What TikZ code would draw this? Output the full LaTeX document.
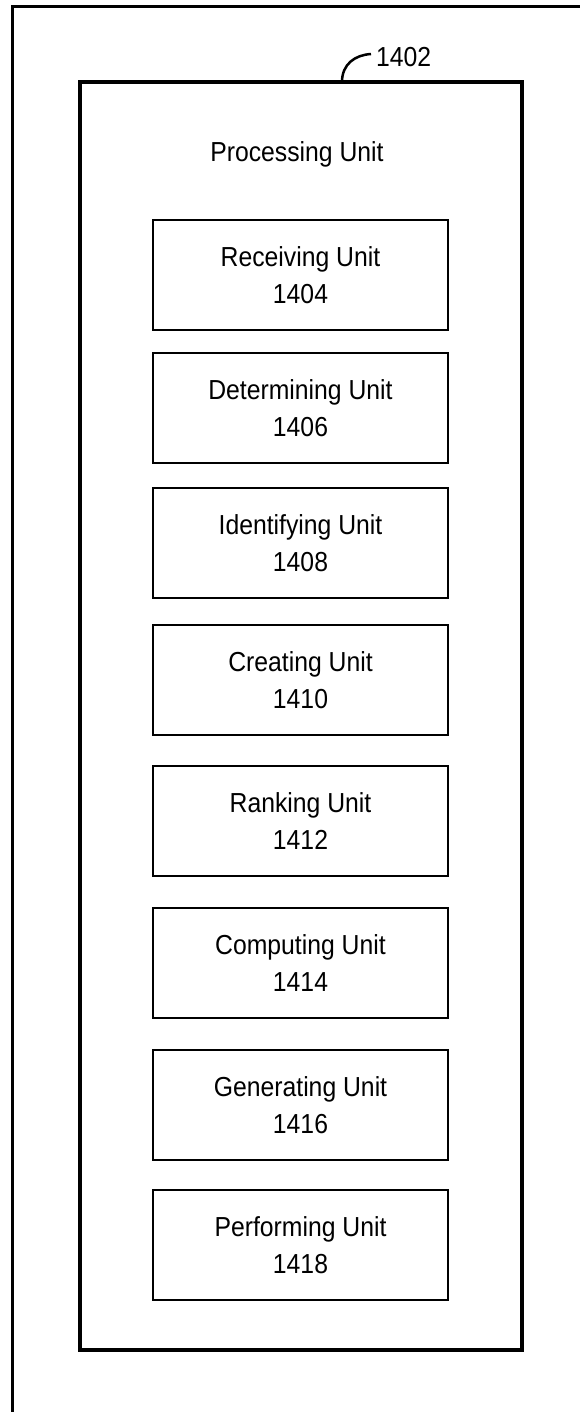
\documentclass[tikz,border=0pt]{standalone}
\usepackage{fontspec}
\setmainfont{Liberation Sans}[FakeStretch=0.9]
\begin{document}
\begin{tikzpicture}[x=1pt,y=-1pt,
  unitbox/.style={draw,line width=2.5pt,minimum width=295pt,minimum height=110pt,inner sep=0pt,align=center,
    font=\fontsize{27.5}{37}\selectfont},
  mainbox/.style={draw,line width=3.5pt,minimum width=442pt,minimum height=1268pt,inner sep=0pt},
  lbl/.style={inner sep=0pt,font=\fontsize{27.5}{37}\selectfont}]
\useasboundingbox (0,0) rectangle (580,1412);
\fill[white] (0,0) rectangle (580,1412);
% outer frame (only left and top visible)
\coordinate (fbl) at (12,1420);
\coordinate (ftl) at (12,7);
\coordinate (ftr) at (590,7);
\draw[line width=3pt] (fbl) -- (ftl) -- (ftr);
% main processing unit box
\node[mainbox] (proc) at (301,716) {};
\node[lbl,anchor=base] (proctitle) at (297,162) {Processing Unit};
% reference label
\node[lbl,anchor=base west] (ref) at (376,67) {1402};
\coordinate (refstart) at (342,82);
\coordinate (refend) at (371,54);
\draw[line width=2.5pt] (refstart) .. controls (342,64) and (355,55) .. (refend);
% units
\node[unitbox] (u1404) at (300.5,275) {Receiving Unit\\1404};
\node[unitbox] (u1406) at (300.5,408) {Determining Unit\\1406};
\node[unitbox] (u1408) at (300.5,543) {Identifying Unit\\1408};
\node[unitbox] (u1410) at (300.5,680) {Creating Unit\\1410};
\node[unitbox] (u1412) at (300.5,821) {Ranking Unit\\1412};
\node[unitbox] (u1414) at (300.5,963) {Computing Unit\\1414};
\node[unitbox] (u1416) at (300.5,1105) {Generating Unit\\1416};
\node[unitbox] (u1418) at (300.5,1245) {Performing Unit\\1418};
\end{tikzpicture}
\end{document}
